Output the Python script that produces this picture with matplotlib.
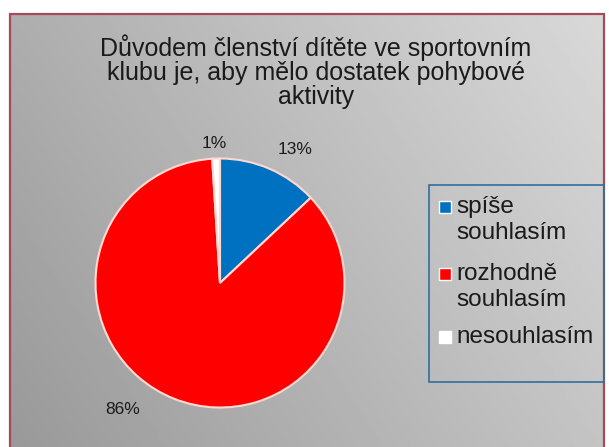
import numpy as np
import matplotlib.pyplot as plt
from matplotlib.patches import Rectangle

plt.rcParams['font.family'] = ['Liberation Sans', 'DejaVu Sans']

TITLE = "Důvodem členství dítěte ve sportovním\nklubu je, aby mělo dostatek pohybové\naktivity"
CATEGORIES = ["spíše\nsouhlasím", "rozhodně\nsouhlasím", "nesouhlasím"]
VALUES = [13, 86, 1]
LABELS = ["13%", "86%", "1%"]
COLORS = ["#0070c0", "#ff0000", "#ffffff"]

W, H = 609, 447
fig = plt.figure(figsize=(W / 100, H / 100), dpi=100)
fig.patch.set_facecolor("white")


def px(x0, y0, x1, y1):
    # pixel box (top-left origin) -> figure fraction rect
    return [x0 / W, 1 - y1 / H, (x1 - x0) / W, (y1 - y0) / H]


# gradient chart area background
bg = fig.add_axes(px(10, 14, 604, 447))
gx = np.linspace(0, 1, 300)
gy = np.linspace(0, 1, 200)
GX, GY = np.meshgrid(gx, gy)
shade = 0.6 + 0.17 * GX + 0.08 * (1 - GY)
bg.imshow(np.clip(shade, 0, 1), cmap="gray", vmin=0, vmax=1, aspect="auto",
          extent=(0, 1, 0, 1), origin="upper")
bg.set_axis_off()
fig.patches.append(Rectangle((10 / W, -0.01), 594 / W, 1 - 14 / H + 0.01,
                             transform=fig.transFigure, fill=False,
                             edgecolor="#a44a5a", lw=1.6))

fig.text(316 / W, 1 - 72 / H, TITLE, ha="center", va="center",
         fontsize=18, color="#1a1a1a", linespacing=1.0)

# pie
cx, cy, r = 220, 283, 127
ax = fig.add_axes(px(cx - r, cy - r, cx + r, cy + r))
ax.pie(VALUES, colors=COLORS, startangle=90, counterclock=False, radius=1,
       wedgeprops=dict(edgecolor="#ffd8d0", linewidth=1.5))
ax.set_xlim(-1.02, 1.02)
ax.set_ylim(-1.02, 1.02)
ax.set_axis_off()

label_pos = [(295, 150), (123, 410), (214, 143)]
for lab, (lx, ly) in zip(LABELS, label_pos):
    fig.text(lx / W, 1 - ly / H, lab, ha="center", va="center",
             fontsize=12.5, color="#1a1a1a")

# legend, laid out by hand: square on the first line, text lines 26 px apart
r0 = px(429, 185, 604, 382)
fig.patches.append(Rectangle((r0[0], r0[1]), r0[2], r0[3],
                             transform=fig.transFigure, fill=False,
                             edgecolor="#2f6f9f", lw=1.2))
entry_baselines = [213, 280, 343]
for cat, col, base in zip(CATEGORIES, COLORS, entry_baselines):
    sq = px(439, base - 12, 451, base)
    fig.patches.append(Rectangle((sq[0], sq[1]), sq[2], sq[3],
                                 transform=fig.transFigure, facecolor=col,
                                 edgecolor="white", lw=1))
    for i, line in enumerate(cat.split("\n")):
        fig.text(456 / W, 1 - (base + 26 * i) / H, line, ha="left",
                 va="baseline", fontsize=17.5, color="#1a1a1a")

fig.savefig("out.png", dpi=100)
